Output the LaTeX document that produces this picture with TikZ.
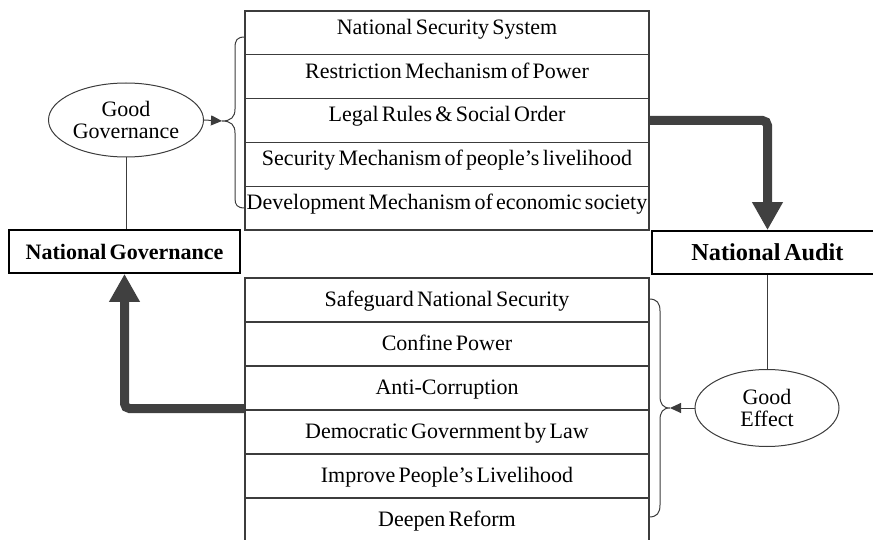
\documentclass[tikz,border=0pt]{standalone}
\usepackage{fontspec}
\setmainfont[WordSpace=0.6]{Liberation Serif}
\usetikzlibrary{arrows.meta,shapes.geometric}
\definecolor{flow}{RGB}{64,64,64}
\definecolor{rule}{RGB}{60,60,60}
\begin{document}
\begin{tikzpicture}[x=1pt,y=-1pt,
  cell/.style={draw=rule,line width=1.1pt,minimum width=404pt,minimum height=43.8pt,
    inner sep=0pt,text height=14pt,text depth=11pt,font=\fontsize{22}{24}\selectfont},
  lowcell/.style={cell,minimum height=44pt,text height=17.5pt,text depth=4pt},
  mainbox/.style={draw=black,line width=1.8pt,minimum width=231pt,minimum height=43pt,
    inner sep=0pt,text height=21pt,text depth=5pt,font=\bfseries\fontsize{22}{24}\selectfont},
  oval/.style={ellipse,draw=rule,line width=1pt,inner sep=0pt,align=center,
    font=\fontsize{22}{22.5}\selectfont},
  thin/.style={draw=rule,line width=1pt},
  pointer/.style={thin,-{Triangle[length=11pt,width=10pt]}},
  bigflow/.style={draw=flow,line width=9pt,rounded corners=5pt,
    -{Triangle[length=28pt,width=29pt]}}]
\useasboundingbox (0,0) rectangle (873,540);

% governance elements
\node[cell] (t1) at (447,32.9) {National Security System};
\node[cell] (t2) at (447,76.7) {Restriction Mechanism of Power};
\node[cell] (t3) at (447,120.5) {Legal Rules \& Social Order};
\node[cell] (t4) at (447,164.3) {Security Mechanism of people’s livelihood};
\node[cell] (t5) at (447,208.1) {Development Mechanism of economic society};

% audit effects
\node[lowcell] (b1) at (447,300) {Safeguard National Security};
\node[lowcell] (b2) at (447,344) {Confine Power};
\node[lowcell] (b3) at (447,388) {Anti-Corruption};
\node[lowcell] (b4) at (447,432) {Democratic Government by Law};
\node[lowcell] (b5) at (447,476) {Improve People’s Livelihood};
\node[lowcell] (b6) at (447,520) {Deepen Reform};

% main boxes
\node[mainbox] (ng) at (124.5,251.5) {National Governance};
\node[mainbox,text height=22pt,font=\bfseries\fontsize{24.3}{26}\selectfont] (na) at (767.5,252.5) {National Audit};

% ovals
\node[oval,minimum width=155pt,minimum height=74pt] (gg) at (126,120) {Good\\Governance};
\node[oval,minimum width=144pt,minimum height=77pt] (ge) at (767,408) {Good\\Effect};

% braces
\coordinate (tipA) at (222,121);
\coordinate (tipB) at (670,408);
\draw[thin] (245,37) .. controls (237,37) and (235,40) .. (235,48) -- (235,109)
  .. controls (235,117) and (231,121) .. (tipA)
  .. controls (231,121) and (235,125) .. (235,133) -- (235,198)
  .. controls (235,205) and (237,208) .. (245,208);
\draw[thin] (649,299) .. controls (657,299) and (660,303) .. (660,311) -- (660,396)
  .. controls (660,404) and (663,408) .. (tipB)
  .. controls (663,408) and (660,412) .. (660,420) -- (660,505)
  .. controls (660,513) and (657,517) .. (649,517);

% links
\draw[pointer] (gg.east) -- (tipA);
\draw[pointer] (ge.west) -- (tipB);
\draw[thin] (gg.south) -- (gg.south |- ng.north);
\draw[thin] (na.south -| ge.north) -- (ge.north);

% main flows
\draw[bigflow] (t3.east) -| (na.north);
\draw[bigflow] ([yshift=2pt]b3.south west) -| (ng.south);
\end{tikzpicture}
\end{document}
